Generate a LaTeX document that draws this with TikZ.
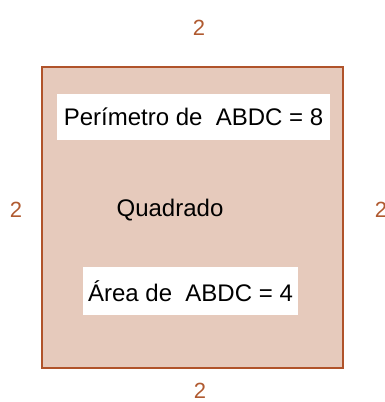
\documentclass[tikz,border=0pt]{standalone}
\usepackage{fontspec}
\setmainfont{Liberation Sans}
\usepackage{tikz}
\usetikzlibrary{calc}
\definecolor{sqfill}{HTML}{E6CABC}
\definecolor{sqline}{HTML}{B0532A}
\definecolor{sidenum}{HTML}{B05A30}

\begin{document}
\begin{tikzpicture}[
        x=1pt, y=-1pt,
        side label/.style={text=sidenum, inner sep=0pt, font=\fontsize{22}{26}\selectfont},
        info box/.style={fill=white, inner sep=0pt, font=\fontsize{24}{28}\selectfont},
        square/.style={draw=sqline, line width=1.6pt, fill=sqfill, minimum width=301pt, minimum height=301pt, inner sep=0pt}
    ]
    \useasboundingbox (0,0) rectangle (385,402);
    \coordinate (ori) at (192.5,217.5);
    \node[square] (sq) at (ori) {};

    % side lengths
    \node[side label] (top)    at (199,28)  {2};
    \node[side label] (bottom) at (200,391) {2};
    \node[side label] (left)   at (16,210)  {2};
    \node[side label] (right)  at (381,210) {2};

    \node[info box, minimum width=273pt, minimum height=46pt] (per) at (193.5,117) {Perímetro de\ \ ABDC = 8};
    \node[font=\fontsize{24}{28}\selectfont, inner sep=0pt] (name) at (170,210) {Quadrado};
    \node[info box, minimum width=215pt, minimum height=48pt] (area) at (190.5,291) {Área de\ \ ABDC = 4};

\end{tikzpicture}
\end{document}
